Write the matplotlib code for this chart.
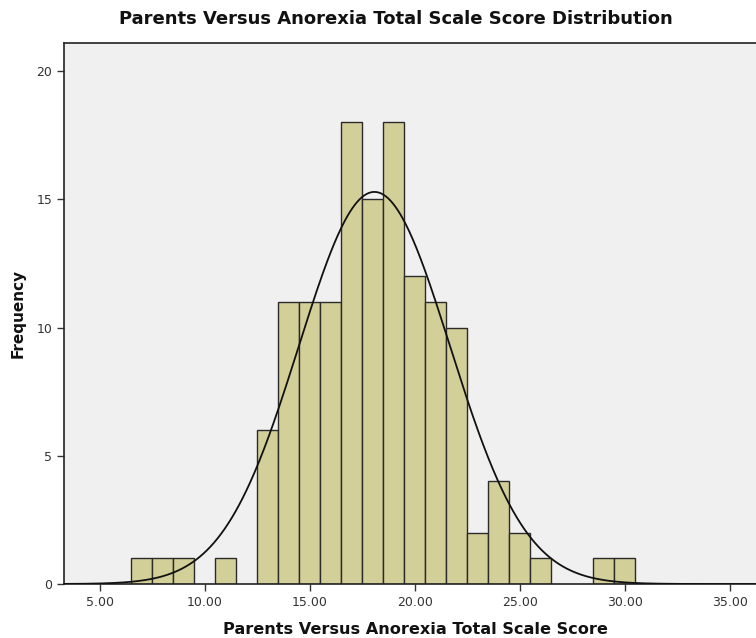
import numpy as np
import matplotlib
matplotlib.use("Agg")
import matplotlib.pyplot as plt

bin_left = [6.5, 7.5, 8.5, 10.5, 12.5, 13.5, 14.5, 15.5, 16.5, 17.5, 18.5, 19.5,
            20.5, 21.5, 22.5, 23.5, 24.5, 25.5, 28.5, 29.5]
counts = [1, 1, 1, 1, 6, 11, 11, 11, 18, 15, 18, 12, 11, 10, 2, 4, 2, 1, 1, 1]
bin_width = 1.0
fit_mean = 18.07
fit_sd = 3.6
n_total = sum(counts)
xticks = [5, 10, 15, 20, 25, 30, 35]
xtick_labels = ["5.00", "10.00", "15.00", "20.00", "25.00", "30.00", "35.00"]
yticks = [0, 5, 10, 15, 20]

plt.rcParams['font.family'] = ['DejaVu Sans']
fig = plt.figure(figsize=(7.56, 6.38), dpi=100)
ax = fig.add_axes([64/756, 54/638, 1 - 64/756, (584-43)/638])
ax.set_facecolor('#f0f0f0')

ax.bar(bin_left, counts, width=bin_width, align='edge', color='#d3cf98',
       edgecolor='#2b2b2b', linewidth=1.0, zorder=2)

xs = np.linspace(3.0, 37.0, 600)
ys = n_total * bin_width / (fit_sd * np.sqrt(2*np.pi)) * np.exp(-(xs - fit_mean)**2 / (2*fit_sd**2))
ax.plot(xs, ys, color='#111111', linewidth=1.3, zorder=3)

ax.set_xlim(3.29, 36.24)
ax.set_ylim(0, 21.1)
ax.set_xticks(xticks)
ax.set_xticklabels(xtick_labels)
ax.set_yticks(yticks)
ax.tick_params(axis='both', direction='out', length=5, width=1, colors='#333333',
               labelsize=9, labelcolor='#333333')
for s in ['left', 'bottom', 'top']:
    ax.spines[s].set_color('#222222')
    ax.spines[s].set_linewidth(1.2)
ax.spines['right'].set_visible(False)

fig.text(396/756, 1 - 19/638, "Parents Versus Anorexia Total Scale Score Distribution",
         ha='center', va='center', fontsize=13, fontweight='bold', color='#111111')
fig.text(415/756, 1 - 629/638, "Parents Versus Anorexia Total Scale Score",
         ha='center', va='center', fontsize=11.6, fontweight='bold', color='#111111')
fig.text(18/756, 1 - 313/638, "Frequency", ha='center', va='center', rotation=90,
         fontsize=11, fontweight='bold', color='#111111')

fig.savefig("out.png", dpi=100, facecolor='white')
